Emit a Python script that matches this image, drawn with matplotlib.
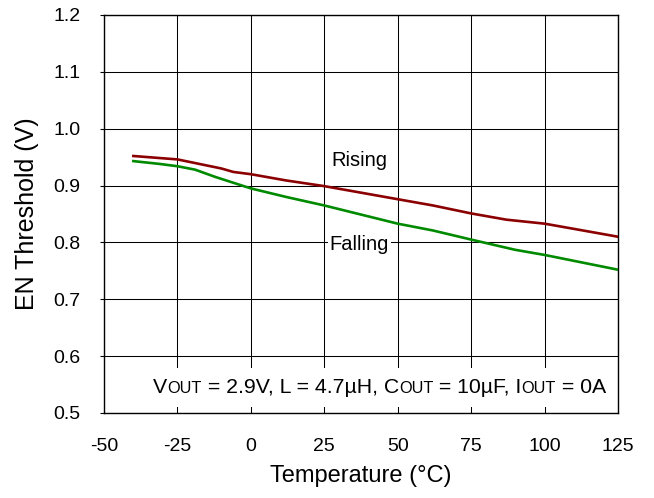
import matplotlib
matplotlib.use("Agg")
import matplotlib.pyplot as plt
from matplotlib.patches import Rectangle

plt.rcParams['font.family'] = ['Liberation Sans', 'DejaVu Sans']
plt.rcParams['axes.unicode_minus'] = False

# temperature (C) and EN threshold (V)
temp_rise = [-40, -25, -10, -6, 0, 12, 25, 50, 62, 75, 87, 100, 112, 125]
v_rise = [0.952, 0.946, 0.930, 0.924, 0.920, 0.909, 0.899, 0.876, 0.865, 0.851, 0.840, 0.833, 0.822, 0.810]

temp_fall = [-40, -31, -25, -19, -12, 0, 12, 25, 50, 62, 75, 90, 100, 125]
v_fall = [0.943, 0.938, 0.934, 0.928, 0.915, 0.895, 0.880, 0.865, 0.833, 0.821, 0.805, 0.787, 0.778, 0.752]

x_ticks = [-50, -25, 0, 25, 50, 75, 100, 125]
y_ticks = [0.5, 0.6, 0.7, 0.8, 0.9, 1.0, 1.1, 1.2]

# test conditions, "OUT" parts are drawn smaller like in the datasheet
cond_parts = [("V", 15.3), ("OUT", 11.7), (" = 2.9V, L = 4.7µH, C", 15.3), ("OUT", 11.7),
              (" = 10µF, I", 15.3), ("OUT", 11.7), (" = 0A", 15.3)]

fig = plt.figure(figsize=(6.54, 4.98), dpi=100)
ax = fig.add_axes([0.159, 0.1707, 0.7859, 0.7992])

ax.plot(temp_rise, v_rise, color='#8b0000', lw=1.9, zorder=3)
ax.plot(temp_fall, v_fall, color='#008a00', lw=1.9, zorder=3)

ax.set_xlim(-50, 125)
ax.set_ylim(0.5, 1.2)
ax.set_xticks(x_ticks)
ax.set_yticks(y_ticks)
ax.set_yticklabels([f"{v:.1f}" for v in y_ticks])
ax.grid(True, color='black', lw=0.75)
ax.tick_params(axis='both', labelsize=14)
ax.tick_params(axis='x', length=0, pad=18)
ax.tick_params(axis='y', direction='out', length=3, width=0.8, pad=14)
for s in ax.spines.values():
    s.set_linewidth(1.0)

ax.set_xlabel('Temperature (°C)', fontsize=17, labelpad=7)
ax.set_ylabel('EN Threshold (V)', fontsize=18, labelpad=10)

ax.text(37, 0.935, 'Rising', fontsize=14.5, ha='center', va='baseline', zorder=4)
ax.text(37, 0.787, 'Falling', fontsize=14.5, ha='center', va='baseline', zorder=4,
        bbox=dict(facecolor='white', edgecolor='none', pad=1))

# white box behind the conditions line
ax.add_patch(Rectangle((-36.5, 0.51), 159, 0.069, facecolor='white', edgecolor='none', zorder=2.2))

base_y = 0.535
nxt = ax.text(120.9, base_y, cond_parts[-1][0], fontsize=cond_parts[-1][1],
              ha='right', va='baseline', zorder=4)
for s, fs in reversed(cond_parts[:-1]):
    nxt = ax.annotate(s, xy=(0, base_y), xycoords=(nxt, 'data'), fontsize=fs,
                      ha='right', va='baseline', zorder=4)

fig.savefig('out.png', dpi=100)
